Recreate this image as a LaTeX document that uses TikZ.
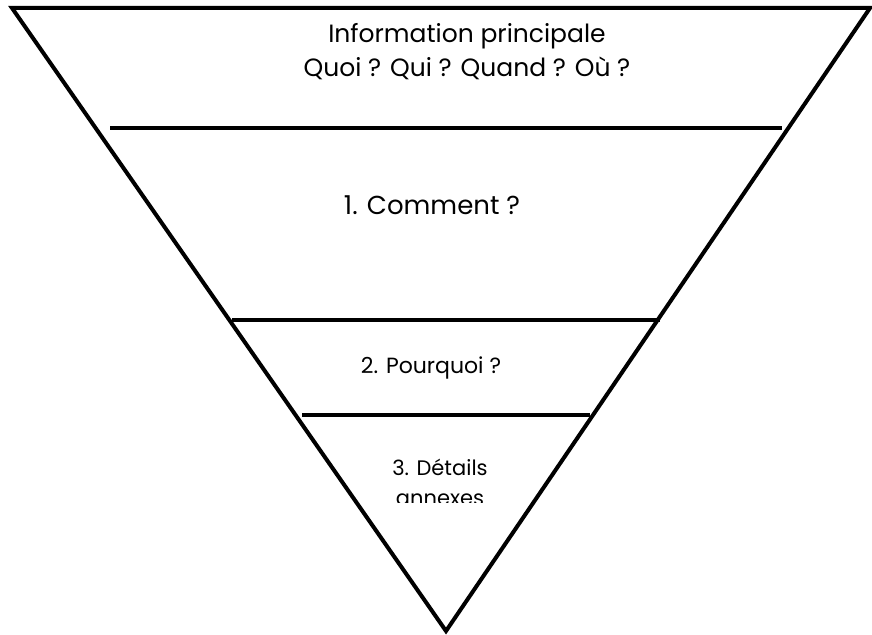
\documentclass[tikz,border=0pt]{standalone}
\usepackage{fontspec}
\setmainfont{Poppins}
\usepackage{tikz}
\usetikzlibrary{positioning}
\tikzset{
  layer/.style={line width=4pt},
  label/.style={font=\fontsize{25}{34}\selectfont, align=center}
}
\begin{document}
\begin{tikzpicture}[x=1pt,y=-1pt]
\useasboundingbox (0,0) rectangle (872,634);

\coordinate (tl) at (12,8);
\coordinate (tr) at (870,8);
\coordinate (tip) at (446,631);
\draw[layer, line join=miter] (tl) -- (tr) -- (tip) -- cycle;

% separating lines
\coordinate (a1) at (110,128);
\coordinate (a2) at (782,128);
\coordinate (b1) at (232,320);
\coordinate (b2) at (660,320);
\coordinate (c1) at (302,415);
\coordinate (c2) at (590,415);
\draw[layer] (a1) -- (a2);
\draw[layer] (b1) -- (b2);
\draw[layer] (c1) -- (c2);

\draw (467,52) node[label] (main) {Information principale\\Quoi ? Qui ? Quand ? Où ?};
\draw (432,205) node[label, font=\fontsize{26}{30}\selectfont] (how) {1. Comment ?};
\draw (431,368) node[label, font=\fontsize{22}{28}\selectfont] (why) {2. Pourquoi ?};

\begin{scope}
\clip (300,430) rectangle (600,502);
\draw (440,482) node[label, font=\fontsize{21}{30}\selectfont] (more) {3. Détails\\annexes};
\end{scope}

\end{tikzpicture}
\end{document}
